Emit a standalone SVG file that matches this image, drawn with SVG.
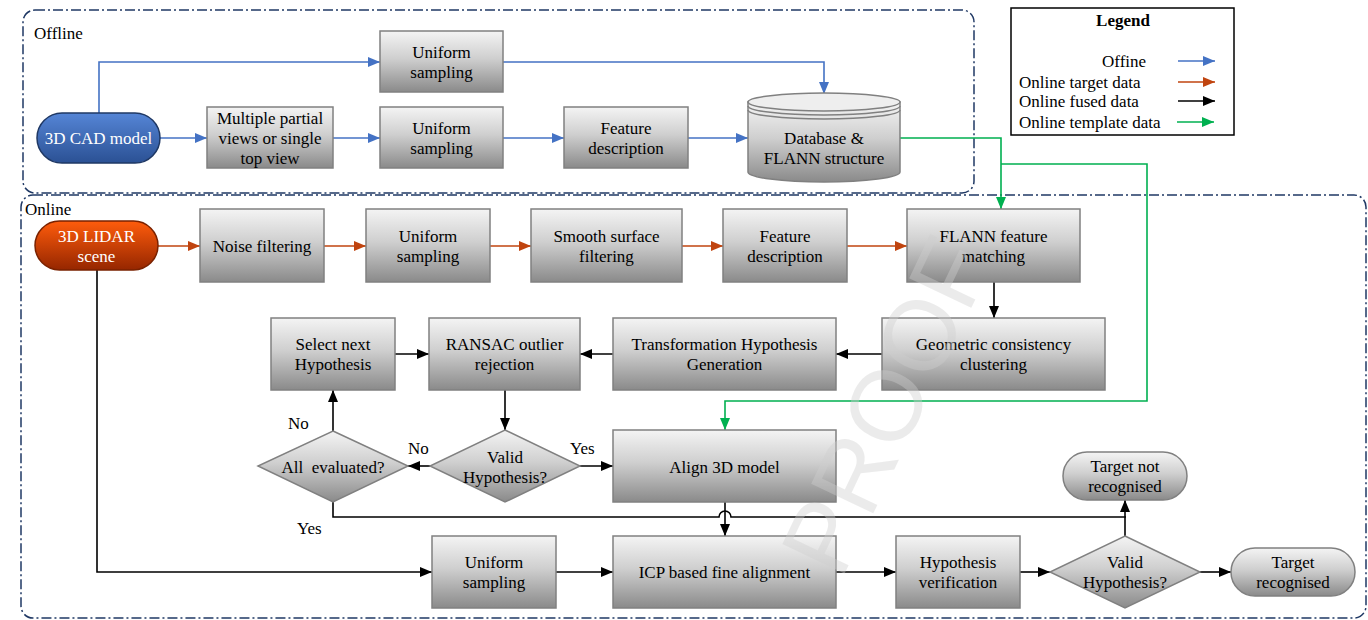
<svg xmlns="http://www.w3.org/2000/svg" width="1368" height="620" viewBox="0 0 1368 620">
<defs>
<linearGradient id="g" x1="0" y1="0" x2="0" y2="1"><stop offset="0" stop-color="#f4f4f4"/><stop offset="0.45" stop-color="#cfcfcf"/><stop offset="1" stop-color="#8a8a8a"/></linearGradient>
<linearGradient id="gb" x1="0" y1="0" x2="0" y2="1"><stop offset="0" stop-color="#5585d6"/><stop offset="1" stop-color="#2b5194"/></linearGradient>
<linearGradient id="go" x1="0" y1="0" x2="0" y2="1"><stop offset="0" stop-color="#ff5c0c"/><stop offset="1" stop-color="#952600"/></linearGradient>
<marker id="mb" markerWidth="12" markerHeight="10" refX="12" refY="5" orient="auto" markerUnits="userSpaceOnUse"><path d="M0,0 L12,5 L0,10 z" fill="#4472c4"/></marker>
<marker id="mr" markerWidth="12" markerHeight="10" refX="12" refY="5" orient="auto" markerUnits="userSpaceOnUse"><path d="M0,0 L12,5 L0,10 z" fill="#c0440f"/></marker>
<marker id="mk" markerWidth="12" markerHeight="10" refX="12" refY="5" orient="auto" markerUnits="userSpaceOnUse"><path d="M0,0 L12,5 L0,10 z" fill="#000"/></marker>
<marker id="mg" markerWidth="12" markerHeight="10" refX="12" refY="5" orient="auto" markerUnits="userSpaceOnUse"><path d="M0,0 L12,5 L0,10 z" fill="#00b050"/></marker>
</defs>
<style>
.box{fill:url(#g);stroke:#808080;stroke-width:1.5}
.t{font-family:"Liberation Serif","Times New Roman",serif;font-size:17px;text-anchor:middle;fill:#000}
.l{font-family:"Liberation Serif","Times New Roman",serif;font-size:17px;fill:#000}
.w{fill:#fff}
.cont{fill:none;stroke:#1f3864;stroke-width:1.5;stroke-dasharray:10 3 2 3}
.c{fill:none;stroke-width:1.6}
.cb{stroke:#4472c4;marker-end:url(#mb)}
.cr{stroke:#c0440f;marker-end:url(#mr)}
.ck{stroke:#000;marker-end:url(#mk)}
.cg{stroke:#00b050}
</style>
<rect width="1368" height="620" fill="#fff"/>

<g id="offline-container">
<rect class="cont" x="23" y="10" width="951" height="183" rx="12"/>
<text class="l" x="34" y="39">Offline</text>
</g>
<g id="online-container">
<rect class="cont" x="21" y="195" width="1345" height="423" rx="12"/>
<text class="l" x="25" y="215">Online</text>
</g>

<g id="legend">
<rect x="1011" y="8" width="223" height="127" fill="#fff" stroke="#000" stroke-width="1.5"/>
<text class="t" x="1123" y="26" font-weight="bold">Legend</text>
<text class="l" x="1102" y="67">Offine</text>
<text class="l" x="1019" y="88">Online target data</text>
<text class="l" x="1019" y="107">Online fused data</text>
<text class="l" x="1019" y="128">Online template data</text>
<path class="c cb" d="M1178,61 H1215"/>
<path class="c cr" d="M1178,82 H1215"/>
<path class="c ck" d="M1178,101 H1215"/>
<path class="c cg" d="M1177,122 H1214" marker-end="url(#mg)"/>
</g>

<g id="connectors">
<path class="c cb" d="M160,138 H207"/>
<path class="c cb" d="M333,138 H380"/>
<path class="c cb" d="M503,138 H564"/>
<path class="c cb" d="M688,138 H748"/>
<path class="c cb" d="M99,113 V62 H380"/>
<path class="c cb" d="M503,62 H824 V94"/>
<path class="c cg" d="M900,138 H1001 V209" marker-end="url(#mg)"/>
<path class="c cg" d="M1001,164 H1147 V401 H725 V430" marker-end="url(#mg)"/>
<path class="c cr" d="M158,246 H200"/>
<path class="c cr" d="M324,246 H366"/>
<path class="c cr" d="M490,246 H531"/>
<path class="c cr" d="M682,246 H723"/>
<path class="c cr" d="M847,246 H907"/>
<path class="c ck" d="M994,282 V318"/>
<path class="c ck" d="M882,354 H836"/>
<path class="c ck" d="M613,354 H580"/>
<path class="c ck" d="M395,354 H429"/>
<path class="c ck" d="M505,390 V430"/>
<path class="c ck" d="M580,466 H613"/>
<path class="c ck" d="M430,466 H408"/>
<path class="c ck" d="M333,431 V390"/>
<path class="c" stroke="#000" d="M333,502 V517 H719 A6,6 0 0 1 731,517 H1126"/>
<path class="c ck" d="M725,502 V536"/>
<path class="c ck" d="M1125,536 V500"/>
<path class="c ck" d="M97,270 V572 H432"/>
<path class="c ck" d="M556,572 H613"/>
<path class="c ck" d="M836,572 H896"/>
<path class="c ck" d="M1020,572 H1050"/>
<path class="c ck" d="M1200,572 H1231"/>
<text class="l" x="288" y="429">No</text>
<text class="l" x="408" y="454">No</text>
<text class="l" x="570" y="454">Yes</text>
<text class="l" x="297" y="534">Yes</text>
</g>

<g id="cad-model">
<rect x="37" y="113" width="123" height="50" rx="25" fill="url(#gb)" stroke="#1f3864" stroke-width="1.5"/>
<text class="t w" x="98.5" y="144">3D CAD model</text>
</g>
<g id="partial-views">
<rect class="box" x="207" y="107" width="126" height="61"/>
<text class="t" x="270" y="124">Multiple partial</text>
<text class="t" x="270" y="144">views or single</text>
<text class="t" x="270" y="164">top view</text>
</g>
<g id="uniform-offline-1">
<rect class="box" x="380" y="31" width="123" height="61"/>
<text class="t" x="441.5" y="58">Uniform</text>
<text class="t" x="441.5" y="78">sampling</text>
</g>
<g id="uniform-offline-2">
<rect class="box" x="380" y="107" width="123" height="61"/>
<text class="t" x="441.5" y="134">Uniform</text>
<text class="t" x="441.5" y="154">sampling</text>
</g>
<g id="feature-offline">
<rect class="box" x="564" y="107" width="124" height="61"/>
<text class="t" x="626" y="134">Feature</text>
<text class="t" x="626" y="154">description</text>
</g>
<g id="database">
<path d="M748,102 V172 A76,10 0 0 0 900,172 V102 Z" fill="url(#g)" stroke="#808080" stroke-width="1.5"/>
<ellipse cx="824" cy="102" rx="76" ry="9" fill="#eeeeee" stroke="#808080" stroke-width="1.5"/>
<path d="M748,106 A76,9 0 0 0 900,106 M748,110 A76,9 0 0 0 900,110" fill="none" stroke="#808080" stroke-width="1.5"/>
<text class="t" x="824" y="144">Database &amp;</text>
<text class="t" x="824" y="164">FLANN structure</text>
</g>

<g id="lidar-scene">
<rect x="35" y="221" width="123" height="49" rx="24.5" fill="url(#go)" stroke="#7a2200" stroke-width="1.5"/>
<text class="t w" x="96.5" y="242">3D LIDAR</text>
<text class="t w" x="96.5" y="262">scene</text>
</g>
<g id="noise-filtering">
<rect class="box" x="200" y="209" width="124" height="73"/>
<text class="t" x="262" y="252">Noise filtering</text>
</g>
<g id="uniform-online-1">
<rect class="box" x="366" y="209" width="124" height="73"/>
<text class="t" x="428" y="242">Uniform</text>
<text class="t" x="428" y="262">sampling</text>
</g>
<g id="smooth-surface">
<rect class="box" x="531" y="209" width="151" height="73"/>
<text class="t" x="606.5" y="242">Smooth surface</text>
<text class="t" x="606.5" y="262">filtering</text>
</g>
<g id="feature-online">
<rect class="box" x="723" y="209" width="124" height="73"/>
<text class="t" x="785" y="242">Feature</text>
<text class="t" x="785" y="262">description</text>
</g>
<g id="flann-matching">
<rect class="box" x="907" y="209" width="173" height="73"/>
<text class="t" x="993.5" y="242">FLANN feature</text>
<text class="t" x="993.5" y="262">matching</text>
</g>
<g id="geometric-clustering">
<rect class="box" x="882" y="318" width="223" height="72"/>
<text class="t" x="993.5" y="350">Geometric consistency</text>
<text class="t" x="993.5" y="370">clustering</text>
</g>
<g id="transformation-hypothesis">
<rect class="box" x="613" y="318" width="223" height="72"/>
<text class="t" x="724.5" y="350">Transformation Hypothesis</text>
<text class="t" x="724.5" y="370">Generation</text>
</g>
<g id="ransac">
<rect class="box" x="429" y="318" width="151" height="72"/>
<text class="t" x="504.5" y="350">RANSAC outlier</text>
<text class="t" x="504.5" y="370">rejection</text>
</g>
<g id="select-next">
<rect class="box" x="271" y="318" width="124" height="72"/>
<text class="t" x="333" y="350">Select next</text>
<text class="t" x="333" y="370">Hypothesis</text>
</g>
<g id="valid-hypothesis-1">
<path class="box" d="M505,430 L580,466 L505,502 L430,466 Z"/>
<text class="t" x="505" y="463">Valid</text>
<text class="t" x="505" y="483">Hypothesis?</text>
</g>
<g id="all-evaluated">
<path class="box" d="M333,431 L408,466 L333,502 L258,466 Z"/>
<text class="t" x="333" y="473" xml:space="preserve">All  evaluated?</text>
</g>
<g id="align-3d">
<rect class="box" x="613" y="430" width="223" height="72"/>
<text class="t" x="724.5" y="473">Align 3D model</text>
</g>
<g id="uniform-online-2">
<rect class="box" x="432" y="536" width="124" height="72"/>
<text class="t" x="494" y="568">Uniform</text>
<text class="t" x="494" y="588">sampling</text>
</g>
<g id="icp-alignment">
<rect class="box" x="613" y="536" width="223" height="72"/>
<text class="t" x="724.5" y="578">ICP based fine alignment</text>
</g>
<g id="hypothesis-verification">
<rect class="box" x="896" y="536" width="124" height="72"/>
<text class="t" x="958" y="568">Hypothesis</text>
<text class="t" x="958" y="588">verification</text>
</g>
<g id="valid-hypothesis-2">
<path class="box" d="M1125,536 L1200,572 L1125,608 L1050,572 Z"/>
<text class="t" x="1125" y="568">Valid</text>
<text class="t" x="1125" y="588">Hypothesis?</text>
</g>
<g id="target-not-recognised">
<rect class="box" x="1063" y="452" width="124" height="48" rx="24"/>
<text class="t" x="1125" y="472">Target not</text>
<text class="t" x="1125" y="492">recognised</text>
</g>
<g id="target-recognised">
<rect class="box" x="1231" y="548" width="124" height="48" rx="24"/>
<text class="t" x="1293" y="568">Target</text>
<text class="t" x="1293" y="588">recognised</text>
</g>

<g id="watermark" opacity="0.4">
<text transform="translate(885,405) rotate(-64.5)" x="0" y="36" font-family="Liberation Sans, Arial, sans-serif" font-size="100" text-anchor="middle" fill="#cfcfcf">PROOF</text>
</g>
</svg>
